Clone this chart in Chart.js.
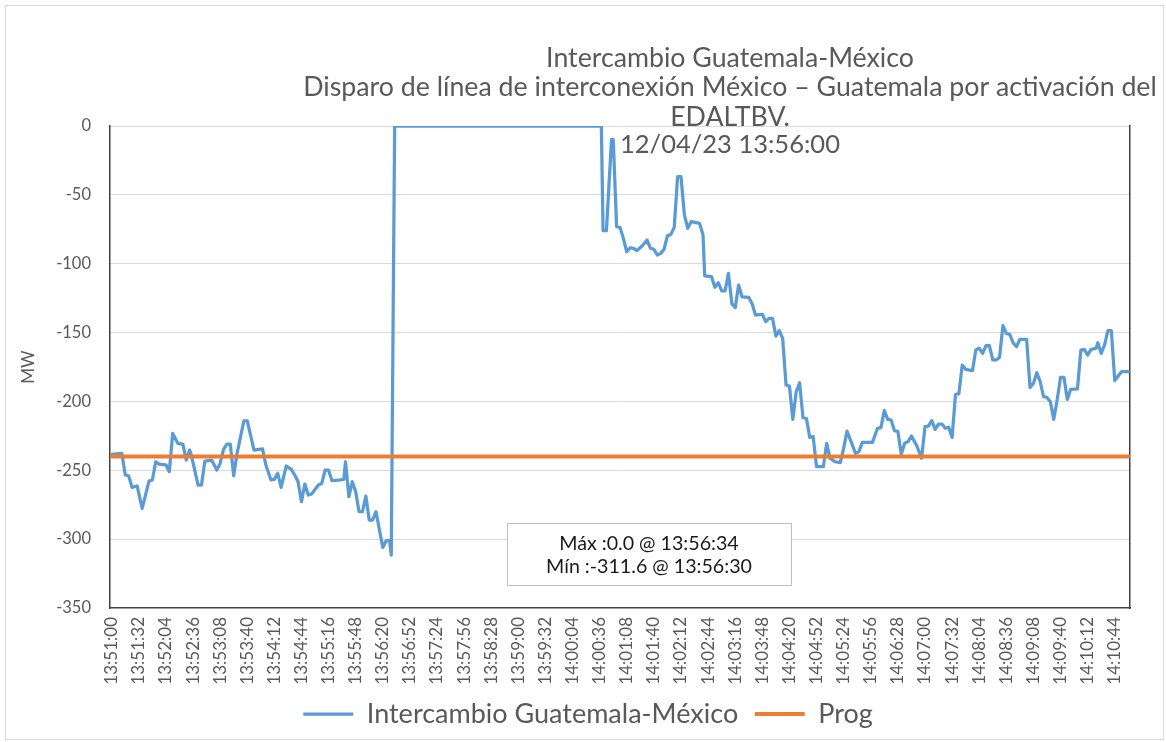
<!DOCTYPE html>
<html>
<head>
<meta charset="utf-8">
<script src="https://cdn.jsdelivr.net/npm/chart.js@4.4.0/dist/chart.umd.min.js"></script>
<style>
    body { margin: 0; background: #fff; }
    #marco { position: absolute; left: 5px; top: 5px; width: 1157px; height: 733px; border: 1px solid #d9d9d9; }
    #grafico { position: absolute; left: 0; top: 0; }
</style>
</head>
<body>
<div id="marco"></div>
<canvas id="grafico" width="1166" height="742"></canvas>
<script>
// Datos (vertices de la curva, hora -> MW)
var horas = [
    '13:51:00', '13:51:12', '13:51:16', '13:51:20', '13:51:24', '13:51:30', '13:51:36', '13:51:44', '13:51:48', '13:51:52',
    '13:51:56', '13:52:04', '13:52:08', '13:52:12', '13:52:18', '13:52:24', '13:52:28', '13:52:32', '13:52:34', '13:52:42',
    '13:52:46', '13:52:50', '13:52:58', '13:53:04', '13:53:08', '13:53:12', '13:53:16', '13:53:20', '13:53:24', '13:53:28',
    '13:53:36', '13:53:40', '13:53:48', '13:53:58', '13:54:02', '13:54:08', '13:54:12', '13:54:16', '13:54:20', '13:54:26',
    '13:54:32', '13:54:36', '13:54:40', '13:54:44', '13:54:48', '13:54:52', '13:54:56', '13:55:04', '13:55:08', '13:55:12',
    '13:55:16', '13:55:20', '13:55:30', '13:55:34', '13:55:36', '13:55:40', '13:55:44', '13:55:48', '13:55:52', '13:55:56',
    '13:56:00', '13:56:04', '13:56:08', '13:56:12', '13:56:20', '13:56:24', '13:56:28', '13:56:30', '13:56:34', '14:00:38',
    '14:00:40', '14:00:44', '14:00:50', '14:00:52', '14:00:56', '14:01:00', '14:01:04', '14:01:08', '14:01:12', '14:01:16',
    '14:01:20', '14:01:26', '14:01:32', '14:01:36', '14:01:40', '14:01:44', '14:01:48', '14:01:52', '14:01:56', '14:02:00',
    '14:02:04', '14:02:08', '14:02:12', '14:02:16', '14:02:20', '14:02:24', '14:02:30', '14:02:34', '14:02:38', '14:02:40',
    '14:02:48', '14:02:52', '14:02:56', '14:03:00', '14:03:04', '14:03:08', '14:03:12', '14:03:16', '14:03:20', '14:03:24',
    '14:03:32', '14:03:36', '14:03:40', '14:03:48', '14:03:52', '14:03:56', '14:04:00', '14:04:04', '14:04:08', '14:04:12',
    '14:04:16', '14:04:20', '14:04:24', '14:04:28', '14:04:32', '14:04:36', '14:04:40', '14:04:44', '14:04:48', '14:04:52',
    '14:05:00', '14:05:04', '14:05:08', '14:05:14', '14:05:20', '14:05:24', '14:05:28', '14:05:38', '14:05:42', '14:05:46',
    '14:05:58', '14:06:04', '14:06:08', '14:06:12', '14:06:16', '14:06:20', '14:06:24', '14:06:28', '14:06:32', '14:06:36',
    '14:06:40', '14:06:44', '14:06:50', '14:06:56', '14:07:00', '14:07:04', '14:07:08', '14:07:12', '14:07:16', '14:07:20',
    '14:07:24', '14:07:28', '14:07:32', '14:07:36', '14:07:40', '14:07:44', '14:07:48', '14:07:56', '14:08:00', '14:08:04',
    '14:08:08', '14:08:12', '14:08:16', '14:08:20', '14:08:24', '14:08:28', '14:08:32', '14:08:36', '14:08:40', '14:08:44',
    '14:08:48', '14:08:52', '14:09:00', '14:09:04', '14:09:08', '14:09:12', '14:09:16', '14:09:20', '14:09:24', '14:09:28',
    '14:09:32', '14:09:36', '14:09:40', '14:09:44', '14:09:48', '14:09:52', '14:10:00', '14:10:04', '14:10:08', '14:10:12',
    '14:10:16', '14:10:22', '14:10:24', '14:10:28', '14:10:32', '14:10:36', '14:10:40', '14:10:44', '14:10:48', '14:10:52',
    '14:11:00'
];
var intercambio = [
    -238.4, -237.7, -253.4, -254.0, -262.4, -261.4, -277.6, -257.8, -257.0, -243.8,
    -245.5, -246.0, -251.0, -223.2, -230.4, -231.0, -242.6, -235.3, -239.0, -260.7,
    -260.7, -243.3, -242.6, -249.8, -245.0, -234.8, -231.0, -231.0, -254.0, -237.7,
    -214.2, -214.2, -235.3, -234.5, -246.2, -257.0, -256.6, -252.2, -262.4, -246.9,
    -249.3, -253.4, -258.3, -272.8, -260.0, -268.0, -267.2, -260.7, -259.5, -249.8,
    -249.8, -257.6, -257.0, -256.6, -243.8, -269.2, -258.3, -265.6, -280.1, -280.1,
    -268.7, -286.1, -286.1, -280.1, -306.0, -301.1, -301.1, -311.6, 0.0, 0.0,
    -76.0, -76.0, -9.7, -9.7, -73.1, -73.6, -81.6, -91.3, -88.4, -88.8,
    -90.5, -87.1, -82.8, -88.8, -89.5, -93.7, -92.5, -89.5, -79.7, -78.7,
    -73.6, -36.8, -36.8, -64.6, -74.3, -69.5, -70.2, -70.7, -79.2, -108.9,
    -109.4, -117.1, -113.8, -119.8, -119.8, -107.0, -128.8, -131.9, -115.5, -124.0,
    -124.4, -129.3, -137.3, -136.7, -142.1, -139.7, -139.7, -152.5, -148.6, -154.2,
    -188.1, -188.8, -213.0, -193.0, -186.4, -211.8, -212.3, -226.1, -225.6, -247.4,
    -247.4, -230.4, -241.3, -243.8, -244.5, -234.1, -221.5, -237.7, -236.5, -229.7,
    -229.7, -219.5, -219.0, -206.7, -213.0, -213.5, -221.3, -221.8, -238.4, -230.4,
    -229.2, -225.1, -231.7, -241.3, -218.3, -218.0, -214.0, -220.3, -216.4, -216.4,
    -219.5, -218.7, -226.1, -195.0, -194.3, -173.6, -176.7, -177.7, -162.7, -161.4,
    -165.1, -159.5, -159.5, -169.9, -169.9, -168.0, -145.0, -150.6, -151.3, -157.4,
    -160.3, -154.9, -154.9, -189.8, -186.9, -179.2, -185.7, -196.6, -197.1, -200.2,
    -213.0, -199.0, -182.5, -182.5, -198.5, -191.2, -190.8, -162.7, -162.2, -166.3,
    -162.2, -161.4, -157.4, -165.1, -159.0, -148.6, -148.6, -184.9, -181.6, -178.4,
    -178.4
];
var progHoras = ['13:51:00', '14:11:00'];
var prog = [-240, -240];

var etiquetas = [
    '13:51:00', '13:51:32', '13:52:04', '13:52:36', '13:53:08', '13:53:40', '13:54:12', '13:54:44',
    '13:55:16', '13:55:48', '13:56:20', '13:56:52', '13:57:24', '13:57:56', '13:58:28', '13:59:00',
    '13:59:32', '14:00:04', '14:00:36', '14:01:08', '14:01:40', '14:02:12', '14:02:44', '14:03:16',
    '14:03:48', '14:04:20', '14:04:52', '14:05:24', '14:05:56', '14:06:28', '14:07:00', '14:07:32',
    '14:08:04', '14:08:36', '14:09:08', '14:09:40', '14:10:12', '14:10:44'
];

var titulo = ['Intercambio Guatemala-México',
    'Disparo de línea de interconexión México – Guatemala por activación del',
    'EDALTBV.'];
var nota = '12/04/23 13:56:00';
var resumen = ['Máx :0.0 @ 13:56:34', 'Mín :-311.6 @ 13:56:30'];

var fuente = 'Lato';
var gris = '#595959';

var t0 = 0;
function segundos(h) {
    var p = h.split(':');
    return (+p[0]) * 3600 + (+p[1]) * 60 + (+p[2]) - t0;
}
t0 = segundos('13:51:00');

function puntos(hs, vals) {
    return hs.map(function(h, i) { return { x: segundos(h), y: vals[i] }; });
}

// tamaño de letra para que el texto ocupe el ancho dado
function ajustar(ctx, texto, ancho) {
    ctx.font = '20px ' + fuente;
    return 20 * ancho / ctx.measureText(texto).width;
}

// Titulo, nota y recuadro de max/min
var textos = {
    id: 'textos',
    afterDraw: function(chart) {
        var ctx = chart.ctx;
        ctx.save();
        ctx.fillStyle = gris;
        ctx.textAlign = 'center';
        ctx.textBaseline = 'middle';
        var t = ajustar(ctx, titulo[1], 854);
        ctx.font = t + 'px ' + fuente;
        titulo.forEach(function(linea, i) {
            ctx.fillText(linea, 730, 58 + i * 29.5);
        });

        var n = ajustar(ctx, nota, 220);
        ctx.font = n + 'px ' + fuente;
        ctx.textAlign = 'left';
        ctx.fillText(nota, 620, 145);

        ctx.fillStyle = '#fff';
        ctx.fillRect(507, 523, 284, 62);
        ctx.strokeStyle = '#bfbfbf';
        ctx.lineWidth = 1;
        ctx.strokeRect(507.5, 523.5, 284, 62);
        var r = ajustar(ctx, resumen[1], 206);
        ctx.font = r + 'px ' + fuente;
        ctx.fillStyle = '#1a1a1a';
        ctx.textAlign = 'center';
        ctx.fillText(resumen[0], 649, 544);
        ctx.fillText(resumen[1], 649, 567);
        ctx.restore();
    }
};

var ctx = document.getElementById('grafico').getContext('2d');

new Chart(ctx, {
    type: 'line',
    data: {
        datasets: [{
            label: 'Intercambio Guatemala-México',
            data: puntos(horas, intercambio),
            borderColor: '#5b9bd5',
            backgroundColor: '#5b9bd5',
            borderWidth: 3.25,
            order: 1
        }, {
            label: 'Prog',
            data: puntos(progHoras, prog),
            borderColor: '#ed7d31',
            backgroundColor: '#ed7d31',
            borderWidth: 4,
            order: 0
        }]
    },
    options: {
        responsive: false,
        animation: false,
        elements: {
            point: { radius: 0 },
            line: { tension: 0, borderJoinStyle: 'round', borderCapStyle: 'round' }
        },
        layout: { padding: { left: 10, right: 0, top: 126, bottom: 4.5 } },
        plugins: {
            title: { display: false },
            tooltip: { enabled: false },
            legend: {
                position: 'bottom',
                labels: {
                    usePointStyle: true,
                    pointStyle: 'line',
                    pointStyleWidth: 50,
                    padding: 16.5,
                    color: gris,
                    font: { family: fuente, size: 27 },
                    sort: function(a, b) { return a.datasetIndex - b.datasetIndex; }
                }
            }
        },
        scales: {
            x: {
                type: 'linear',
                min: -2,
                max: 1202,
                afterBuildTicks: function(axis) {
                    axis.ticks = etiquetas.map(function(e) { return { value: segundos(e) }; });
                },
                afterFit: function(scale) { scale.height = 76; },
                grid: { display: false, drawTicks: false },
                border: { color: '#404040', width: 1.5 },
                ticks: {
                    autoSkip: false,
                    minRotation: 90,
                    maxRotation: 90,
                    padding: 9,
                    color: gris,
                    font: { family: fuente, size: 17 },
                    callback: function(v, i) { return etiquetas[i]; }
                }
            },
            y: {
                min: -350,
                max: 0,
                afterFit: function(scale) { scale.width = 100; },
                grid: {
                    drawTicks: false,
                    color: function(c) { return c.tick && c.tick.value === -350 ? 'rgba(0,0,0,0)' : '#d9d9d9'; }
                },
                border: { color: '#404040', width: 1.5 },
                ticks: {
                    stepSize: 50,
                    padding: 19,
                    color: gris,
                    font: { family: fuente, size: 16.5 }
                },
                title: {
                    display: true,
                    text: 'MW',
                    color: gris,
                    padding: { top: 8, bottom: 0 },
                    font: { family: fuente, size: 17 }
                }
            },
            y2: {
                position: 'right',
                min: -350,
                max: 0,
                afterFit: function(scale) { scale.width = 36; },
                grid: { display: false, drawTicks: false },
                border: { color: '#404040', width: 1.5 },
                ticks: { display: false }
            }
        }
    },
    plugins: [textos]
});
</script>
</body>
</html>
